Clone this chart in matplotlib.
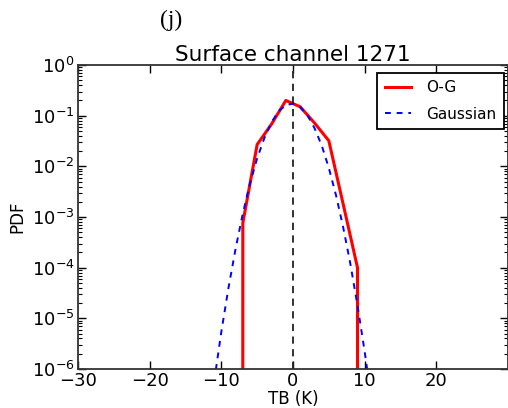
import numpy as np
import matplotlib
matplotlib.use('Agg')
import matplotlib.pyplot as plt

# O-G histogram (bin centres in K, PDF)
og_x = [-9, -7, -5, -3, -1, 1, 3, 5, 7, 9, 11]
og_pdf = [0, 7.6e-4, 0.027, 0.068, 0.2, 0.15, 0.072, 0.032, 1.8e-3, 1.0e-4, 0]

# fitted Gaussian
gauss_x = [-11, -10, -9, -8, -7, -6, -5, -4, -3, -2, -1, 0, 1, 2, 3, 4, 5, 6, 7, 8, 9, 10, 11]
gauss_pdf = [5.7e-7, 5.4e-6, 4.0e-5, 2.4e-4, 1.17e-3, 4.6e-3, 1.44e-2, 3.6e-2, 7.4e-2, 0.123,
             0.162, 0.173, 0.148, 0.103, 0.057, 0.026, 9.3e-3, 2.7e-3, 6.3e-4, 1.2e-4,
             1.8e-5, 2.2e-6, 2.2e-7]

xticks = [-30, -20, -10, 0, 10, 20]

fig = plt.figure(figsize=(5.08, 4.08), dpi=100)
ax = fig.add_axes([0.1535, 0.0956, 0.8465, 0.745])

ax.set_yscale('log', nonpositive='clip')
ax.plot(og_x, og_pdf, color='red', lw=2.2, label='O-G')
ax.plot(gauss_x, gauss_pdf, color='blue', lw=1.4, ls=(0, (3, 3)), label='Gaussian')
ax.axvline(0, color='#222222', lw=1.3, ls=(0, (4, 3)))

ax.set_xlim(-30, 30)
ax.set_ylim(1e-6, 1)
ax.set_xticks(xticks)
ax.tick_params(which='both', direction='in', top=True, right=True, labelsize=13)
ax.tick_params(which='major', length=6, width=1, pad=2.5)
ax.tick_params(which='minor', length=3, width=0.8)
for s in ax.spines.values():
    s.set_linewidth(1.3)
    s.set_color('#333333')

ax.set_xlabel('TB (K)', fontsize=12, labelpad=0)
ax.set_ylabel('PDF', fontsize=12)
ax.set_title('Surface channel 1271', fontsize=15.5, pad=3)

leg = ax.legend(loc='upper right', fontsize=11, fancybox=False, framealpha=1,
                edgecolor='black', handlelength=1.7, handletextpad=1.0, borderpad=0.5,
                labelspacing=0.75, bbox_to_anchor=(0.99, 0.975), borderaxespad=0)
leg.get_frame().set_linewidth(1.3)

fig.text(0.337, 0.949, '(j)', family='Liberation Serif', fontsize=17, va='center', ha='center')

fig.savefig('out.png', dpi=100)
